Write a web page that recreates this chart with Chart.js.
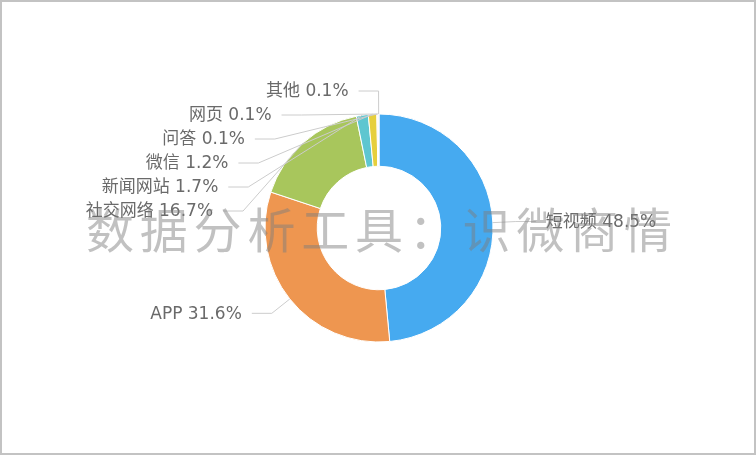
<!DOCTYPE html>
<html>
<head>
<meta charset="utf-8">
<script src="https://cdn.jsdelivr.net/npm/chart.js@4/dist/chart.umd.min.js"></script>
<style>
  html, body { margin: 0; padding: 0; background: #fff; }
  #wrap { width: 756px; height: 455px; box-sizing: border-box; border: 2px solid #c3c3c3; position: relative; }
  #chart { display: block; }
</style>
</head>
<body>
<div id="wrap"><canvas id="chart" width="752" height="451"></canvas></div>
<script>
// 数据
const labels = ['短视频', 'APP', '社交网络', '新闻网站', '微信', '问答', '网页', '其他'];
const shares = [48.5, 31.6, 16.7, 1.7, 1.2, 0.1, 0.1, 0.1];
const colors = ['#46aaf0', '#ee9650', '#a8c65c', '#5ec6d0', '#e6cf3c', '#f2a08a', '#b09ee0', '#a8a8a8'];
const watermark = '数据分析工具：识微商情';

// --- 外部标签 + 引导线 (仿 echarts) ---
const outsideLabels = {
  id: 'outsideLabels',
  afterDatasetsDraw(chart) {
    const ctx = chart.ctx;
    const arcs = chart.getDatasetMeta(0).data;
    const len1 = 23, len2 = 20, gap = 10, lineH = 24;
    const items = arcs.map((arc, i) => {
      const mid = (arc.startAngle + arc.endAngle) / 2;
      const R = arc.outerRadius;
      const r2 = R + len1;
      return {
        i, arc, r2,
        side: Math.cos(mid) >= 0 ? 1 : -1,
        p1: { x: arc.x + Math.cos(mid) * R, y: arc.y + Math.sin(mid) * R },
        y: arc.y + Math.sin(mid) * r2
      };
    });
    [1, -1].forEach(side => {
      const list = items.filter(it => it.side === side).sort((a, b) => a.y - b.y);
      for (let k = 1; k < list.length; k++) {
        if (list[k].y < list[k - 1].y + lineH) list[k].y = list[k - 1].y + lineH;
      }
    });
    ctx.save();
    ctx.font = '17px "DejaVu Sans", "Noto Sans CJK SC", sans-serif';
    ctx.textBaseline = 'middle';
    items.forEach(it => {
      const cx = it.arc.x, cy = it.arc.y;
      const dy = it.y - cy;
      const ex = cx + it.side * Math.sqrt(Math.max(it.r2 * it.r2 - dy * dy, 0));
      const lx = ex + it.side * len2;
      ctx.strokeStyle = '#cccccc';
      ctx.lineWidth = 1;
      ctx.beginPath();
      ctx.moveTo(it.p1.x, it.p1.y);
      ctx.lineTo(ex, it.y);
      ctx.lineTo(lx, it.y);
      ctx.stroke();
      ctx.fillStyle = '#6a6a6a';
      ctx.textAlign = it.side > 0 ? 'left' : 'right';
      ctx.fillText(labels[it.i] + ' ' + shares[it.i].toFixed(1) + '%', lx + it.side * gap, it.y + 1);
    });
    ctx.restore();
  },
  afterDraw(chart) {
    // 水印
    const ctx = chart.ctx;
    const arc = chart.getDatasetMeta(0).data[0];
    const step = 53.8;
    const chars = Array.from(watermark);
    ctx.save();
    ctx.font = '48px "Noto Sans CJK SC", sans-serif';
    ctx.fillStyle = 'rgba(125,125,125,0.48)';
    ctx.textAlign = 'center';
    ctx.textBaseline = 'middle';
    chars.forEach((c, k) => {
      ctx.fillText(c, arc.x + (k - (chars.length - 1) / 2) * step, arc.y + 2);
    });
    ctx.restore();
  }
};

new Chart(document.getElementById('chart'), {
  type: 'doughnut',
  data: {
    labels: labels,
    datasets: [{
      data: shares,
      backgroundColor: colors,
      borderColor: '#ffffff',
      borderWidth: 1
    }]
  },
  options: {
    responsive: false,
    animation: false,
    radius: 114,
    cutout: 68,
    layout: { padding: { left: 100, right: 98, top: 100, bottom: 99 } },
    plugins: {
      legend: { display: false },
      tooltip: { enabled: false }
    }
  },
  plugins: [outsideLabels]
});
</script>
</body>
</html>
